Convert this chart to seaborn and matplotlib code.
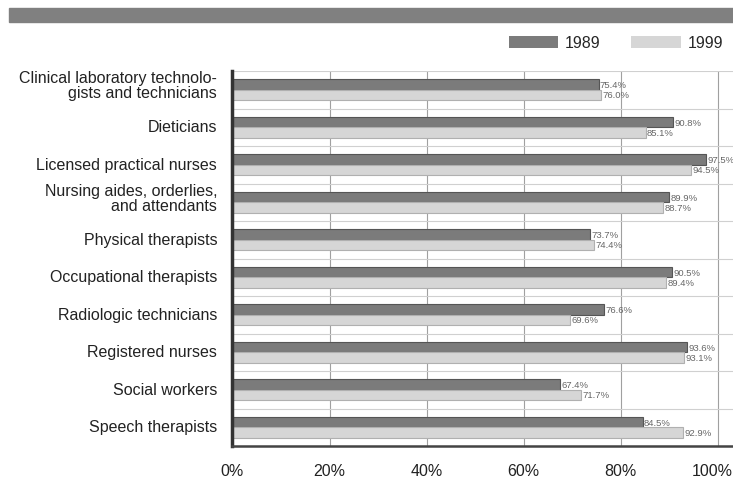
import pandas as pd
import matplotlib.pyplot as plt
import matplotlib.transforms as mtransforms
import seaborn as sns
from matplotlib.patches import Rectangle
from matplotlib.ticker import FuncFormatter

occupations = [
    "Clinical laboratory technolo-\ngists and technicians",
    "Dieticians",
    "Licensed practical nurses",
    "Nursing aides, orderlies,\nand attendants",
    "Physical therapists",
    "Occupational therapists",
    "Radiologic technicians",
    "Registered nurses",
    "Social workers",
    "Speech therapists",
]
pct_1989 = [75.4, 90.8, 97.5, 89.9, 73.7, 90.5, 76.6, 93.6, 67.4, 84.5]
pct_1999 = [76.0, 85.1, 94.5, 88.7, 74.4, 89.4, 69.6, 93.1, 71.7, 92.9]
years = ["1989", "1999"]

df = pd.DataFrame({
    "occupation": occupations * 2,
    "pct": pct_1989 + pct_1999,
    "year": [years[0]] * len(occupations) + [years[1]] * len(occupations),
})

sns.set_style("white")
plt.rcParams["font.family"] = ["Liberation Sans", "DejaVu Sans"]

fig = plt.figure(figsize=(7.33, 4.89), dpi=100)
ax = fig.add_axes([232.5 / 733, 42 / 489, 500.5 / 733, 375 / 489])

# grey band across the top
fig.patches.append(Rectangle((9 / 733, 1 - 23 / 489), 1, 14 / 489,
                             transform=fig.transFigure, color="#808080", zorder=0))

sns.barplot(data=df, y="occupation", x="pct", hue="year", orient="h",
            palette=["#7b7b7b", "#d6d6d6"], width=0.55, ax=ax,
            edgecolor=None, linewidth=0)

for cont, ec in zip(ax.containers, ["#555555", "#b0b0b0"]):
    for bar in cont:
        bar.set_edgecolor(ec)
        bar.set_linewidth(0.8)
    ax.bar_label(cont, labels=[f"{v:.1f}%" for v in cont.datavalues],
                 padding=1, fontsize=6.8, color="#666666")

ax.set_xlim(0, 103.1)
ax.set_ylim(9.5, -0.5)
ax.set_xticks([0, 20, 40, 60, 80, 100])
ax.xaxis.set_major_formatter(FuncFormatter(lambda v, p: f"{v:.0f}%"))
ax.set_yticks([i + 0.5 for i in range(-1, 10)], minor=True)
ax.grid(axis="x", which="major", color="#a0a0a0", linewidth=0.8)
ax.grid(axis="y", which="minor", color="#d0d0d0", linewidth=0.8)
ax.set_axisbelow(True)
ax.tick_params(axis="y", which="both", length=0, pad=11, labelsize=11.5, labelcolor="#222222")
ax.tick_params(axis="x", length=0, pad=12, labelsize=11.5, labelcolor="#222222")
ax.set_xlabel("")
ax.set_ylabel("")

fig.canvas.draw()
# last x label sits against the right edge
last = ax.get_xticklabels()[-1]
last.set_horizontalalignment("right")
last.set_transform(last.get_transform() + mtransforms.ScaledTranslation(15 / 100, 0, fig.dpi_scale_trans))

# category labels sit a little above the bar pairs
for lab in ax.get_yticklabels():
    up = 6 if "\n" in lab.get_text() else 2
    lab.set_linespacing(1.0)
    lab.set_transform(lab.get_transform() + mtransforms.ScaledTranslation(0, up / 100, fig.dpi_scale_trans))

for s in ["top", "right"]:
    ax.spines[s].set_visible(False)
ax.spines["left"].set_color("#333333")
ax.spines["left"].set_linewidth(2.5)
ax.spines["bottom"].set_color("#444444")
ax.spines["bottom"].set_linewidth(1.8)

handles, labels = ax.get_legend_handles_labels()
ax.legend(handles, labels, loc="center right", bbox_to_anchor=(1.0, 1 - 44 / 489),
          bbox_transform=fig.transFigure, ncol=2, frameon=False, borderaxespad=0.2,
          handlelength=3.1, handleheight=0.75, columnspacing=1.9, handletextpad=0.45,
          fontsize=11.5)

fig.savefig("out.png", dpi=100)
